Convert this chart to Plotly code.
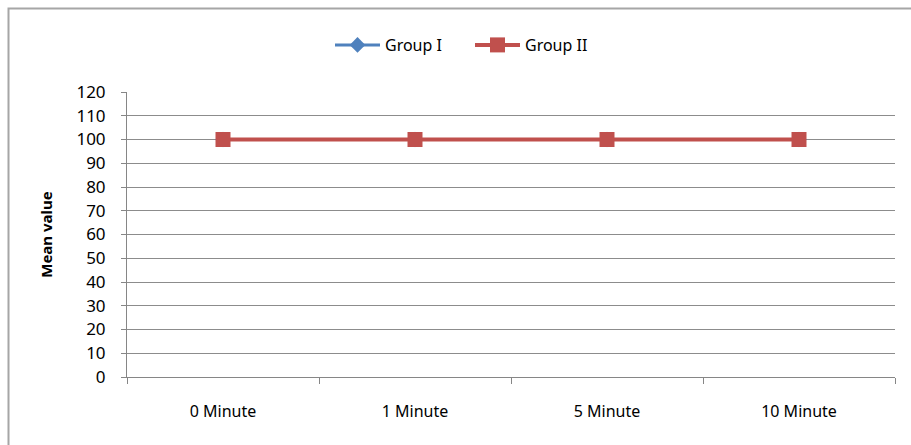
import plotly.graph_objects as go

categories = ["0 Minute", "1 Minute", "5 Minute", "10 Minute"]
group_i = [100, 100, 100, 100]
group_ii = [100, 100, 100, 100]
y_ticks = list(range(0, 121, 10))

W, H = 911, 445
ML, MR, MT, MB = 127, 16, 92, 68
PW, PH = W - ML - MR, H - MT - MB

fig = go.Figure()
fig.add_trace(go.Scatter(
    x=categories, y=group_i, name="Group I", mode="lines+markers",
    line=dict(color="#4f81bd", width=3),
    marker=dict(symbol="diamond", size=12, color="#4f81bd"),
))
fig.add_trace(go.Scatter(
    x=categories, y=group_ii, name="Group II", mode="lines+markers",
    line=dict(color="#c0504d", width=4),
    marker=dict(symbol="square", size=15, color="#c0504d"),
))

# chart frame
fig.add_shape(type="rect", xref="paper", yref="paper", layer="below",
              x0=(8.5 - ML) / PW, x1=(W + 20 - ML) / PW,
              y0=-(H + 20 - MT - PH) / PH, y1=1 + (MT - 8.5) / PH,
              line=dict(color="#a6a6a6", width=2), fillcolor="rgba(0,0,0,0)")

fig.update_layout(
    width=W, height=H,
    margin=dict(l=ML, r=MR, t=MT, b=MB),
    paper_bgcolor="white", plot_bgcolor="white",
    font=dict(family="Noto Sans", size=16, color="#000000"),
    showlegend=True,
    legend=dict(orientation="h", x=(330 - ML) / PW, xanchor="left",
                y=1 + (MT - 28) / PH, yanchor="top", font=dict(size=16),
                itemwidth=45, tracegroupgap=0,
                entrywidth=80, entrywidthmode="pixels"),
    xaxis=dict(
        type="category", range=[-0.5, 3.5],
        showgrid=False, showline=True, linecolor="#868686", linewidth=1,
        ticks="outside", tickson="boundaries", ticklen=6, tickcolor="#868686",
        ticklabelstandoff=20, tickfont=dict(size=16),
    ),
    yaxis=dict(
        range=[0, 120], tickvals=y_ticks,
        showgrid=True, gridcolor="#8c8c8c", gridwidth=1,
        showline=True, linecolor="#868686", linewidth=1,
        ticks="outside", ticklen=5, tickcolor="#868686",
        ticklabelstandoff=12, zeroline=False, tickfont=dict(size=17),
        title=dict(text="<b>Mean value</b>", font=dict(size=15), standoff=20),
    ),
)

fig.write_html("out.html")
